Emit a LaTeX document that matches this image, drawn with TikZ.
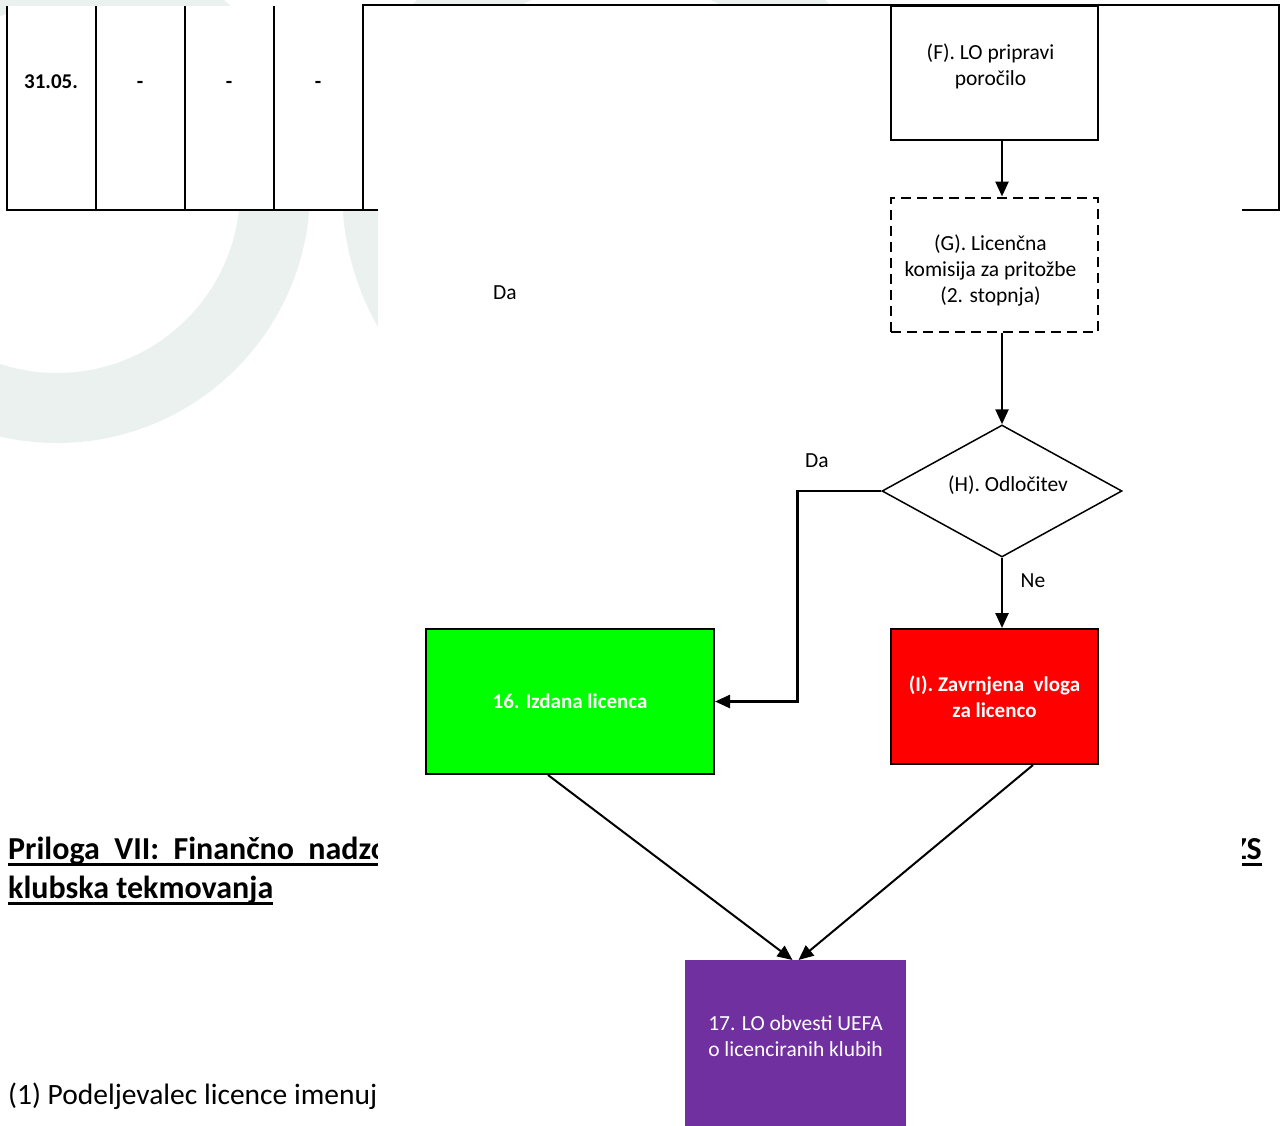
\documentclass[tikz,border=0pt]{standalone}
\usepackage{fontspec}
\setmainfont{Carlito}
\usetikzlibrary{shapes.geometric,arrows.meta,positioning}

\definecolor{wmark}{RGB}{235,241,239}
\definecolor{okgreen}{RGB}{0,255,0}
\definecolor{nored}{RGB}{255,0,0}
\definecolor{uefapurple}{RGB}{112,48,160}

\tikzset{
  stepbox/.style={draw, line width=2pt, minimum width=207pt, minimum height=134pt,
    inner sep=0pt, align=center, font=\fontsize{21.5}{26}\selectfont},
  flow/.style={line width=2.5pt, -{Triangle[length=15pt,width=13pt]}},
  lbl/.style={font=\fontsize{21.5}{26}\selectfont},
  boldtxt/.style={font=\bfseries\fontsize{21}{26}\selectfont},
  heading/.style={anchor=base west, inner sep=0pt, font=\bfseries\fontsize{32}{39}\selectfont},
}

\begin{document}
\begin{tikzpicture}[x=1pt, y=-1pt]
\useasboundingbox (0,0) rectangle (1280,1125);

% watermark behind the page
\fill[wmark, even odd rule] (57,190) circle (253) (57,190) circle (183);
\fill[wmark, even odd rule] (621,190) circle (279) (621,190) circle (210);

\fill[white] (7,6) rectangle (1279,210);

% table row
\draw[line width=2.5pt] (7,6) -- (7,210) -- (378,210);
\foreach \x in {96,185,274}
  \draw[line width=2.5pt] (\x,6) -- (\x,210);
\draw[line width=2.5pt] (363,210) -- (363,5) -- (1279,5) -- (1279,210) -- (1242,210);

\node[boldtxt, anchor=base] (date) at (51,88) {31.05.};
\foreach \x/\n in {140/a,229/b,318/c}
  \node[boldtxt, anchor=base] (dash\n) at (\x,88) {-};

% heading and paragraph
\node[heading] (title1) at (8,859) {Priloga\hspace{0.45em}VII:\hspace{0.45em}Finančno\hspace{0.45em}nadzorovanje};
\node[heading] (title2) at (8,898) {klubska tekmovanja};
\node[heading, anchor=base east] (title3) at (1262,859) {ZS};
\foreach \t in {title1,title2,title3}
  \draw[line width=3pt] ([yshift=-5pt]\t.base west) -- ([yshift=-5pt]\t.base east);
\node[anchor=base west, inner sep=0pt, font=\fontsize{29.5}{36}\selectfont] (para) at (8,1104)
  {(1) Podeljevalec licence imenuje};

\fill[white] (378,210) rectangle (1242,1125);

% flowchart
\node[stepbox, label={[lbl, align=center, xshift=-4pt, yshift=7pt]center:(F). LO pripravi\\poročilo}] (F) at (994.5,73) {};
\node[stepbox, dash pattern=on 10pt off 6pt,
  label={[lbl, align=center, xshift=-4pt, yshift=-6pt]center:(G). Licenčna\\komisija za pritožbe\\(2. stopnja)}] (G) at (994.5,264.5) {};
\node[diamond, draw, line width=1.5pt, minimum width=240pt, minimum height=132pt,
  aspect=1.82, inner sep=0pt,
  label={[lbl, xshift=6pt, yshift=6pt]center:(H). Odločitev}] (H) at (1002,491) {};
\node[stepbox, fill=okgreen, minimum width=288pt, minimum height=145pt, text=white,
  boldtxt] (L) at (570,701.5) {16. Izdana licenca};
\node[stepbox, fill=nored, minimum height=135pt, text=white,
  boldtxt] (I) at (994.5,696.5) {(I). Zavrnjena\ \ vloga\\za licenco};
\node[fill=uefapurple, minimum width=221pt, minimum height=175pt, inner sep=0pt,
  anchor=north, label={[lbl, text=white, align=center, yshift=12pt]center:17. LO obvesti UEFA\\o licenciranih klubih}]
  (P) at (795.5,960) {};

\node[lbl] (da1) at (505,293) {Da};
\node[lbl] (da2) at (817,461) {Da};
\node[lbl] (ne) at (1033,581) {Ne};

\draw[flow] (F.south -| H.north) -- (G.north -| H.north);
\draw[flow] (G.south -| H.north) -- (H.north);
\draw[flow] (H.west) -- ++(-84,0) |- (L.east);
\draw[flow] (H.south) -- (H.south |- I.north);
\draw[flow, line width=2pt] ([xshift=-22pt]L.south) -- ([xshift=-3pt]P.north);
\draw[flow, line width=2pt] ([xshift=38.5pt]I.south) -- ([xshift=3pt]P.north);

\end{tikzpicture}
\end{document}
